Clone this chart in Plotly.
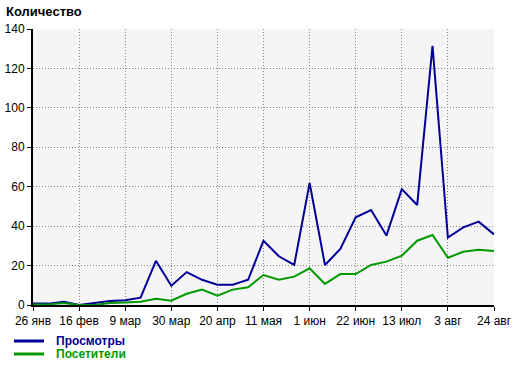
import plotly.graph_objects as go
import pandas as pd

weeks = pd.date_range("2015-01-26", periods=31, freq="7D")
views = [0.7, 0.7, 1.7, 0, 1, 2, 2.4, 3.7, 22.4, 9.8, 16.7, 12.8, 10.3, 10.3, 12.8,
         32.6, 24.7, 20.3, 61.9, 20.3, 28.4, 44.5, 48.2, 35.2, 58.8, 50.7, 131.5,
         34.2, 39.4, 42.3, 35.8]
visitors = [0.3, 0.3, 1, 0, 0, 1, 1.3, 1.7, 3.2, 2.2, 5.7, 7.8, 4.7, 7.8, 9.0,
            15.2, 12.8, 14.4, 18.6, 10.7, 15.7, 15.7, 20.3, 22.0, 25.0, 32.6, 35.5,
            24.0, 27.0, 28.0, 27.4]
tick_labels = ["26 янв", "16 фев", "9 мар", "30 мар", "20 апр", "11 мая",
               "1 июн", "22 июн", "13 июл", "3 авг", "24 авг"]
tick_vals = list(weeks[::3])
series_names = ["Просмотры", "Посетители"]
series_colors = ["#000099", "#009900"]

FONT = "Liberation Sans, Arial, sans-serif"

# plot area in pixels: x 33..494, y 29..305
L, R, T, B = 33, 494, 29, 305
W, H = R - L, B - T
def px(x): return (x - L) / W
def py(y): return (B - y) / H

fig = go.Figure()
for name, vals, col in zip(series_names, [views, visitors], series_colors):
    fig.add_trace(go.Scatter(x=weeks, y=vals, mode="lines", name=name,
                             line=dict(color=col, width=2), showlegend=False))

# legend drawn manually below the plot
for i, (name, col) in enumerate(zip(series_names, series_colors)):
    yy = 341 + 13 * i
    fig.add_shape(type="line", xref="paper", yref="paper",
                  x0=px(14), x1=px(44), y0=py(yy), y1=py(yy),
                  line=dict(color=col, width=3))
    fig.add_annotation(xref="paper", yref="paper", x=px(54), y=py(yy),
                       xanchor="left", yanchor="middle", showarrow=False,
                       text=f"<b>{name}</b>",
                       font=dict(family=FONT, size=12, color=col))

fig.add_annotation(xref="paper", yref="paper", x=px(4), y=py(12),
                   xanchor="left", yanchor="middle", showarrow=False,
                   text="<b>Количество</b>",
                   font=dict(family=FONT, size=13, color="black"))

axis_common = dict(showgrid=True, gridcolor="#888888", griddash="1px,2px", gridwidth=1,
                   showline=True, linecolor="black", linewidth=2,
                   ticks="outside", ticklen=4, tickcolor="black", tickwidth=1,
                   zeroline=False, tickfont=dict(size=12, family=FONT))

fig.update_layout(
    width=520, height=366,
    margin=dict(l=L, r=520 - R, t=T, b=366 - B, autoexpand=False),
    paper_bgcolor="white", plot_bgcolor="#f5f5f5",
    font=dict(family=FONT, size=12, color="black"),
    showlegend=False,
    xaxis=dict(range=[weeks[0], weeks[-1]], tickvals=tick_vals, ticktext=tick_labels,
               **axis_common),
    yaxis=dict(range=[0, 140], tickvals=list(range(0, 141, 20)), **axis_common),
)

fig.write_html("out.html", config={"displayModeBar": False},
               post_script="document.body.style.margin='0';document.body.style.overflow='hidden';")
